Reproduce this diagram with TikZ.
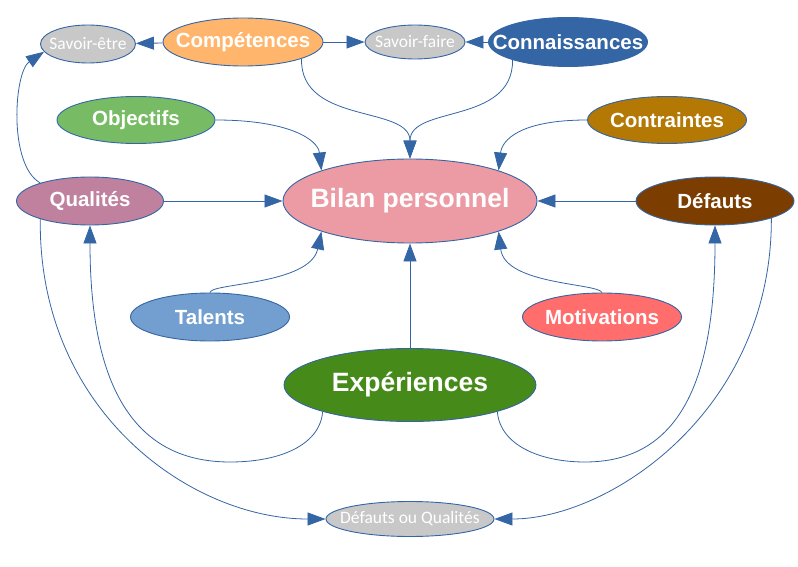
\documentclass[tikz,border=0pt]{standalone}
\usepackage{fontspec}
\setmainfont{Liberation Sans}
\newfontfamily\smallfam{Carlito}
\usetikzlibrary{shapes.geometric,arrows.meta}
\definecolor{edge}{HTML}{3465A4}
\definecolor{cgray}{HTML}{C8C8C8}
\definecolor{corange}{HTML}{FFB66C}
\definecolor{cblue}{HTML}{3465A4}
\definecolor{cgreen}{HTML}{77BC65}
\definecolor{cochre}{HTML}{B47804}
\definecolor{cmauve}{HTML}{BF819E}
\definecolor{cpink}{HTML}{EC9BA4}
\definecolor{cbrown}{HTML}{7B3D00}
\definecolor{clblue}{HTML}{729FCF}
\definecolor{ccoral}{HTML}{FF6D6D}
\definecolor{cdgreen}{HTML}{468A1A}
\tikzset{
  bubble/.style={ellipse, draw=edge, line width=0.9pt, inner sep=0pt, text=white,
    font=\bfseries\fontsize{20.5}{24}\selectfont},
  bigbubble/.style={bubble, font=\bfseries\fontsize{26.5}{30}\selectfont},
  graybubble/.style={bubble, fill=cgray, font=\smallfam\fontsize{17.5}{20}\selectfont},
  conn/.style={draw=edge, line width=0.8pt, -{Triangle[length=18pt,width=13pt]}, fill=none}
}
\newcommand{\tx}[1]{\makebox[0pt]{#1}}
\begin{document}
\begin{tikzpicture}[x=1pt,y=-1pt]
\useasboundingbox (0,0) rectangle (798,567);
% nodes
\node[graybubble, minimum width=95pt, minimum height=38pt] (se) at (88,44) {\tx{Savoir-être}};
\node[bubble, fill=corange, minimum width=160pt, minimum height=48pt] (comp) at (243,42) {\tx{Compétences}};
\node[graybubble, minimum width=100pt, minimum height=34pt] (sf) at (415,42) {\tx{Savoir-faire}};
\node[bubble, fill=cblue, minimum width=159pt, minimum height=49pt] (conn) at (568,42) {\tx{Connaissances}};
\node[bubble, fill=cgreen, minimum width=158pt, minimum height=47pt] (obj) at (136,120) {\tx{Objectifs}};
\node[bubble, fill=cochre, minimum width=159pt, minimum height=47pt] (cont) at (667,120) {\tx{Contraintes}};
\node[bubble, fill=cmauve, minimum width=147pt, minimum height=48pt] (qual) at (90,201) {\tx{Qualités}};
\node[bigbubble, fill=cpink, minimum width=254pt, minimum height=84pt] (bilan) at (410,201) {\tx{Bilan personnel}};
\node[bubble, fill=cbrown, minimum width=158pt, minimum height=48pt] (def) at (715,201) {\tx{Défauts}};
\node[bubble, fill=clblue, minimum width=159pt, minimum height=48pt] (tal) at (210,317) {\tx{Talents}};
\node[bubble, fill=ccoral, minimum width=159pt, minimum height=48pt] (mot) at (602,317) {\tx{Motivations}};
\node[bigbubble, fill=cdgreen, minimum width=252pt, minimum height=73pt] (exp) at (410,385) {\tx{Expériences}};
\node[graybubble, minimum width=168pt, minimum height=35pt] (dq) at (410,519) {\tx{Défauts ou Qualités}};
% connectors
\draw[conn] (comp) -- (se);
\draw[conn] (comp) -- (sf);
\draw[conn] (conn) -- (sf);
\draw[conn] (comp.-16) .. controls (300,125) and (410,105) .. (bilan.north);
\draw[conn] (conn.198) .. controls (513,125) and (410,105) .. (bilan.north);
\draw[conn] (obj.east) .. controls (290,120) and (318,140) .. (bilan.161);
\draw[conn] (cont.west) .. controls (520,120) and (502,140) .. (bilan.19);
\draw[conn] (qual) -- (bilan);
\draw[conn] (def) -- (bilan);
\draw[conn] (tal.north) .. controls (210,283) and (310,285) .. (bilan.199);
\draw[conn] (mot.north) .. controls (598,283) and (505,285) .. (bilan.341);
\draw[conn] (exp) -- (bilan);
\draw[conn] (qual.160) .. controls (8,165) and (14,72) .. (se.190);
\draw[conn] (exp.197) .. controls (320,445) and (280,462) .. (230,462)
   .. controls (130,462) and (90,380) .. (qual.south);
\draw[conn] (exp.-17) .. controls (500,445) and (540,462) .. (585,462)
   .. controls (680,462) and (715,380) .. (def.south);
\draw[conn] (qual.200) .. controls (38,410) and (190,519) .. (dq.west);
\draw[conn] (def.-17) .. controls (772,410) and (610,519) .. (dq.east);
\end{tikzpicture}
\end{document}
